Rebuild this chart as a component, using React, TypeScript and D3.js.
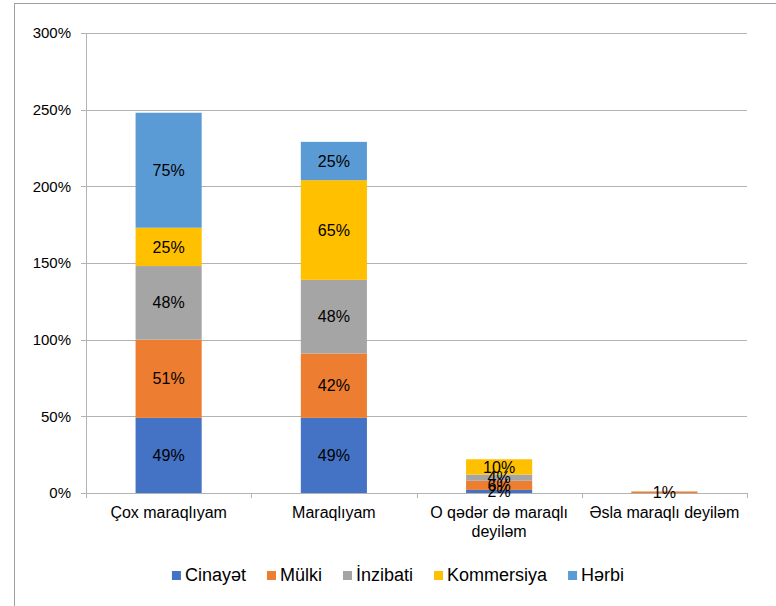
import React, { useEffect, useRef } from "react";
import * as d3 from "d3";

const categories = ["Çox maraqlıyam", "Maraqlıyam", "O qədər də maraqlı\ndeyiləm", "Əsla maraqlı deyiləm"];
const seriesNames = ["Cinayət", "Mülki", "İnzibati", "Kommersiya", "Hərbi"];
const seriesColors = ["#4472C4", "#ED7D31", "#A5A5A5", "#FFC000", "#5B9BD5"];
const cinayet = [49, 49, 2, 0];
const mulki = [51, 42, 6, 1];
const inzibati = [48, 48, 4, 0];
const kommersiya = [25, 65, 10, 0];
const herbi = [75, 25, 0, 0];
const yTicks = [0, 50, 100, 150, 200, 250, 300];

export default function App() {
  const ref = useRef<SVGSVGElement | null>(null);

  useEffect(() => {
    const width = 776, height = 606;
    const svg = d3.select(ref.current);
    svg.selectAll("*").remove();
    svg.attr("width", width).attr("height", height).style("font-family", "Arial, 'Liberation Sans', sans-serif");

    // outer frame
    svg.append("rect").attr("x", 14.5).attr("y", 3.5).attr("width", 800).attr("height", 700)
      .attr("fill", "#fff").attr("stroke", "#a0a0a0").attr("stroke-width", 1);

    const left = 86, right = 747, top = 33, bottom = 493;
    const series = [cinayet, mulki, inzibati, kommersiya, herbi];
    const rows = categories.map((c, i) => {
      const r: any = { cat: c };
      seriesNames.forEach((s, j) => (r[s] = series[j][i]));
      return r;
    });
    const stacked = d3.stack<any>().keys(seriesNames)(rows);

    const x = d3.scaleBand().domain(categories).range([left, right]).paddingInner(0.6).paddingOuter(0.3);
    const band = d3.scaleBand().domain(categories).range([left, right]);
    const y = d3.scaleLinear().domain([0, 300]).range([bottom, top]);

    const g = svg.append("g");

    // gridlines
    g.selectAll("line.grid").data(yTicks).enter().append("line")
      .attr("x1", left).attr("x2", right).attr("y1", d => Math.round(y(d)) + 0.5).attr("y2", d => Math.round(y(d)) + 0.5)
      .attr("stroke", "#b3b3b3").attr("stroke-width", 1);

    // y axis
    g.append("line").attr("x1", left + 0.5).attr("x2", left + 0.5).attr("y1", top).attr("y2", bottom + 4)
      .attr("stroke", "#b3b3b3");
    g.selectAll("line.ytick").data(yTicks).enter().append("line")
      .attr("x1", left - 5).attr("x2", left).attr("y1", d => Math.round(y(d)) + 0.5).attr("y2", d => Math.round(y(d)) + 0.5)
      .attr("stroke", "#b3b3b3");
    g.selectAll("text.ytick").data(yTicks).enter().append("text")
      .attr("x", 71).attr("y", d => y(d)).attr("dy", "0.35em").attr("text-anchor", "end")
      .attr("font-size", 15).attr("fill", "#000").text(d => d + "%");

    // x ticks at band edges
    const edges = categories.map(c => band(c) as number).concat([right]);
    g.selectAll("line.xtick").data(edges).enter().append("line")
      .attr("x1", d => Math.round(d) + 0.5).attr("x2", d => Math.round(d) + 0.5).attr("y1", bottom).attr("y2", bottom + 5)
      .attr("stroke", "#b3b3b3");

    // bars
    stacked.forEach((layer, j) => {
      g.selectAll(`rect.s${j}`).data(layer).enter().append("rect")
        .attr("x", (d: any) => x(d.data.cat) as number)
        .attr("width", x.bandwidth())
        .attr("y", (d: any) => y(d[1]))
        .attr("height", (d: any) => y(d[0]) - y(d[1]))
        .attr("fill", seriesColors[j]);
    });

    // data labels
    stacked.forEach(layer => {
      g.selectAll(null).data(layer.filter((d: any) => d[1] - d[0] > 0)).enter().append("text")
        .attr("x", (d: any) => (x(d.data.cat) as number) + x.bandwidth() / 2)
        .attr("y", (d: any) => y((d[0] + d[1]) / 2))
        .attr("dy", "0.35em").attr("text-anchor", "middle").attr("font-size", 16).attr("fill", "#000")
        .text((d: any) => (d[1] - d[0]) + "%");
    });

    // category labels
    categories.forEach(c => {
      const t = g.append("text").attr("text-anchor", "middle").attr("font-size", 16).attr("fill", "#000");
      c.split("\n").forEach((line, i) => {
        t.append("tspan").attr("x", (band(c) as number) + band.bandwidth() / 2).attr("y", 518 + i * 19).text(line);
      });
    });

    // legend
    const lg = svg.append("g");
    const items = seriesNames.map((s, i) => {
      const it = lg.append("g");
      it.append("rect").attr("width", 9).attr("height", 9).attr("y", 571).attr("fill", seriesColors[i]);
      const t = it.append("text").attr("x", 13).attr("y", 581).attr("font-size", 18).attr("fill", "#000").text(s);
      const w = 13 + (t.node() as SVGTextElement).getComputedTextLength();
      return { it, w };
    });
    const gap = 21;
    const total = d3.sum(items, d => d.w) + gap * (items.length - 1);
    let cx = 398 - total / 2;
    items.forEach(d => {
      d.it.attr("transform", `translate(${cx},0)`);
      cx += d.w + gap;
    });
  }, []);

  return (
    <div>
      <svg ref={ref} style={{ position: "absolute", left: 0, top: 0, display: "block" }} />
    </div>
  );
}
